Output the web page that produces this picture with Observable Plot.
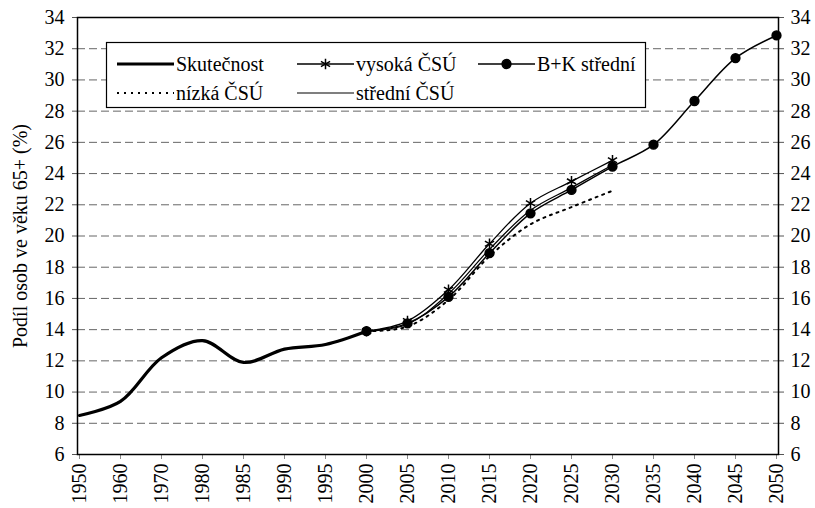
<!DOCTYPE html>
<html>
<head>
<meta charset="utf-8">
<script src="https://cdn.jsdelivr.net/npm/d3@7"></script>
<script src="https://cdn.jsdelivr.net/npm/@observablehq/plot@0.6"></script>
<style>
  html, body { margin: 0; padding: 0; background: #fff; }
  #chart { position: relative; width: 815px; height: 508px; }
  #chart svg, #chart svg text { font-family: "Liberation Serif", "Times New Roman", Times, Tinos, "DejaVu Serif", serif !important; }
</style>
</head>
<body>
<div id="chart"></div>
<script>
// Categories (equally spaced on the category axis)
const years = ["1950","1960","1970","1980","1985","1990","1995","2000","2005","2010","2015","2020","2025","2030","2035","2040","2045","2050"];
// Series values
const skutecnost = [8.5, 9.4, 12.2, 13.3, 11.9, 12.75, 13.05, 13.9];              // 1950–2000
const projYears = ["2000","2005","2010","2015","2020","2025","2030"];
const vysokaCSU  = [13.9, 14.55, 16.55, 19.5, 22.1, 23.5, 24.85];
const nizkaCSU   = [13.9, 14.2, 15.9, 18.7, 20.75, 21.85, 22.9];
const stredniCSU = [13.9, 14.35, 16.3, 19.15, 21.65, 23.1, 24.55];
const bkYears = ["2000","2005","2010","2015","2020","2025","2030","2035","2040","2045","2050"];
const bkStredni  = [13.9, 14.4, 16.1, 18.9, 21.45, 22.95, 24.45, 25.85, 28.65, 31.4, 32.85];
const yTicks = [6,8,10,12,14,16,18,20,22,24,26,28,30,32,34];
const yLabel = "Podíl osob ve věku 65+ (%)";
const legendItems = ["Skutečnost","vysoká ČSÚ","B+K střední","nízká ČSÚ","střední ČSÚ"];

const rows = (xs, ys, series) => xs.map((x, i) => ({year: x, value: ys[i], series}));
const dSk = rows(years.slice(0, skutecnost.length), skutecnost, legendItems[0]);
const dVy = rows(projYears, vysokaCSU, legendItems[1]);
const dBK = rows(bkYears, bkStredni, legendItems[2]);
const dNi = rows(projYears, nizkaCSU, legendItems[3]);
const dSt = rows(projYears, stredniCSU, legendItems[4]);

const font = "Liberation Serif, Times New Roman, Times, Tinos, DejaVu Serif, serif";
const curve = "catmull-rom";

const chart = Plot.plot({
  width: 815,
  height: 508,
  marginLeft: 77,
  marginRight: 37,
  marginTop: 17,
  marginBottom: 54,
  style: {fontFamily: font, fontSize: "20px", color: "black", background: "white"},
  x: {type: "point", domain: years, padding: 0},
  y: {domain: [6, 34]},
  marks: [
    Plot.gridY(yTicks.filter(t => t > 6 && t < 34), {stroke: "#666", strokeOpacity: 1, strokeWidth: 1, strokeDasharray: "8,4"}),
    Plot.axisY(yTicks, {anchor: "left", tickSize: 5, tickPadding: 8, stroke: "#555", label: yLabel, labelAnchor: "center", labelArrow: "none", labelOffset: 65, fontSize: 20}),
    Plot.axisY(yTicks, {anchor: "right", tickSize: 5, tickPadding: 7, stroke: "#555", label: null, fontSize: 20}),
    Plot.axisX({tickRotate: -90, tickSize: 5, tickPadding: 4, stroke: "#888", label: null, fontSize: 20}),
    Plot.frame({stroke: "black", strokeWidth: 1.5}),
    Plot.line(dSk, {x: "year", y: "value", stroke: "black", strokeWidth: 3.2, curve}),
    Plot.line(dNi, {x: "year", y: "value", stroke: "black", strokeWidth: 2, strokeDasharray: "2,5", curve}),
    Plot.line(dSt, {x: "year", y: "value", stroke: "black", strokeWidth: 1.2, curve}),
    Plot.line(dVy, {x: "year", y: "value", stroke: "black", strokeWidth: 1.3, curve}),
    Plot.dot(dVy, {x: "year", y: "value", symbol: "asterisk", r: 5, stroke: "black", strokeWidth: 1.5}),
    Plot.line(dBK, {x: "year", y: "value", stroke: "black", strokeWidth: 1.5, curve}),
    Plot.dot(dBK, {x: "year", y: "value", symbol: "circle", r: 4.4, fill: "black", stroke: "black"})
  ]
});

document.getElementById("chart").appendChild(chart);

// Legend box drawn into the SVG
const svg = d3.select(chart);
const lg = svg.append("g").attr("font-size", 20).attr("fill", "black").attr("text-anchor", "start");
lg.append("rect").attr("x", 106.5).attr("y", 42.5).attr("width", 539).attr("height", 65)
  .attr("fill", "white").attr("stroke", "black").attr("stroke-width", 1.2);
const entries = [
  {name: legendItems[0], x0: 117, row: 0, w: 3.2, dash: null, marker: null},
  {name: legendItems[1], x0: 297, row: 0, w: 1.3, dash: null, marker: "asterisk"},
  {name: legendItems[2], x0: 478, row: 0, w: 1.5, dash: null, marker: "circle"},
  {name: legendItems[3], x0: 117, row: 1, w: 2, dash: "2,5", marker: null},
  {name: legendItems[4], x0: 297, row: 1, w: 1.2, dash: null, marker: null}
];
entries.forEach(e => {
  const y = e.row === 0 ? 64 : 93;
  const len = 57;
  const l = lg.append("line").attr("x1", e.x0).attr("x2", e.x0 + len).attr("y1", y).attr("y2", y)
    .attr("stroke", "black").attr("stroke-width", e.w);
  if (e.dash) l.attr("stroke-dasharray", e.dash);
  if (e.marker) {
    const sym = e.marker === "circle" ? d3.symbolCircle : d3.symbolAsterisk;
    const size = e.marker === "circle" ? Math.PI * 4.4 * 4.4 : 5 * 5 * Math.PI;
    lg.append("path").attr("d", d3.symbol(sym, size)())
      .attr("transform", `translate(${e.x0 + len / 2},${y})`)
      .attr("fill", e.marker === "circle" ? "black" : "none")
      .attr("stroke", "black").attr("stroke-width", 1.5);
  }
  lg.append("text").attr("x", e.x0 + len + 2).attr("y", y).attr("dy", "0.35em").text(e.name);
});
</script>
</body>
</html>
